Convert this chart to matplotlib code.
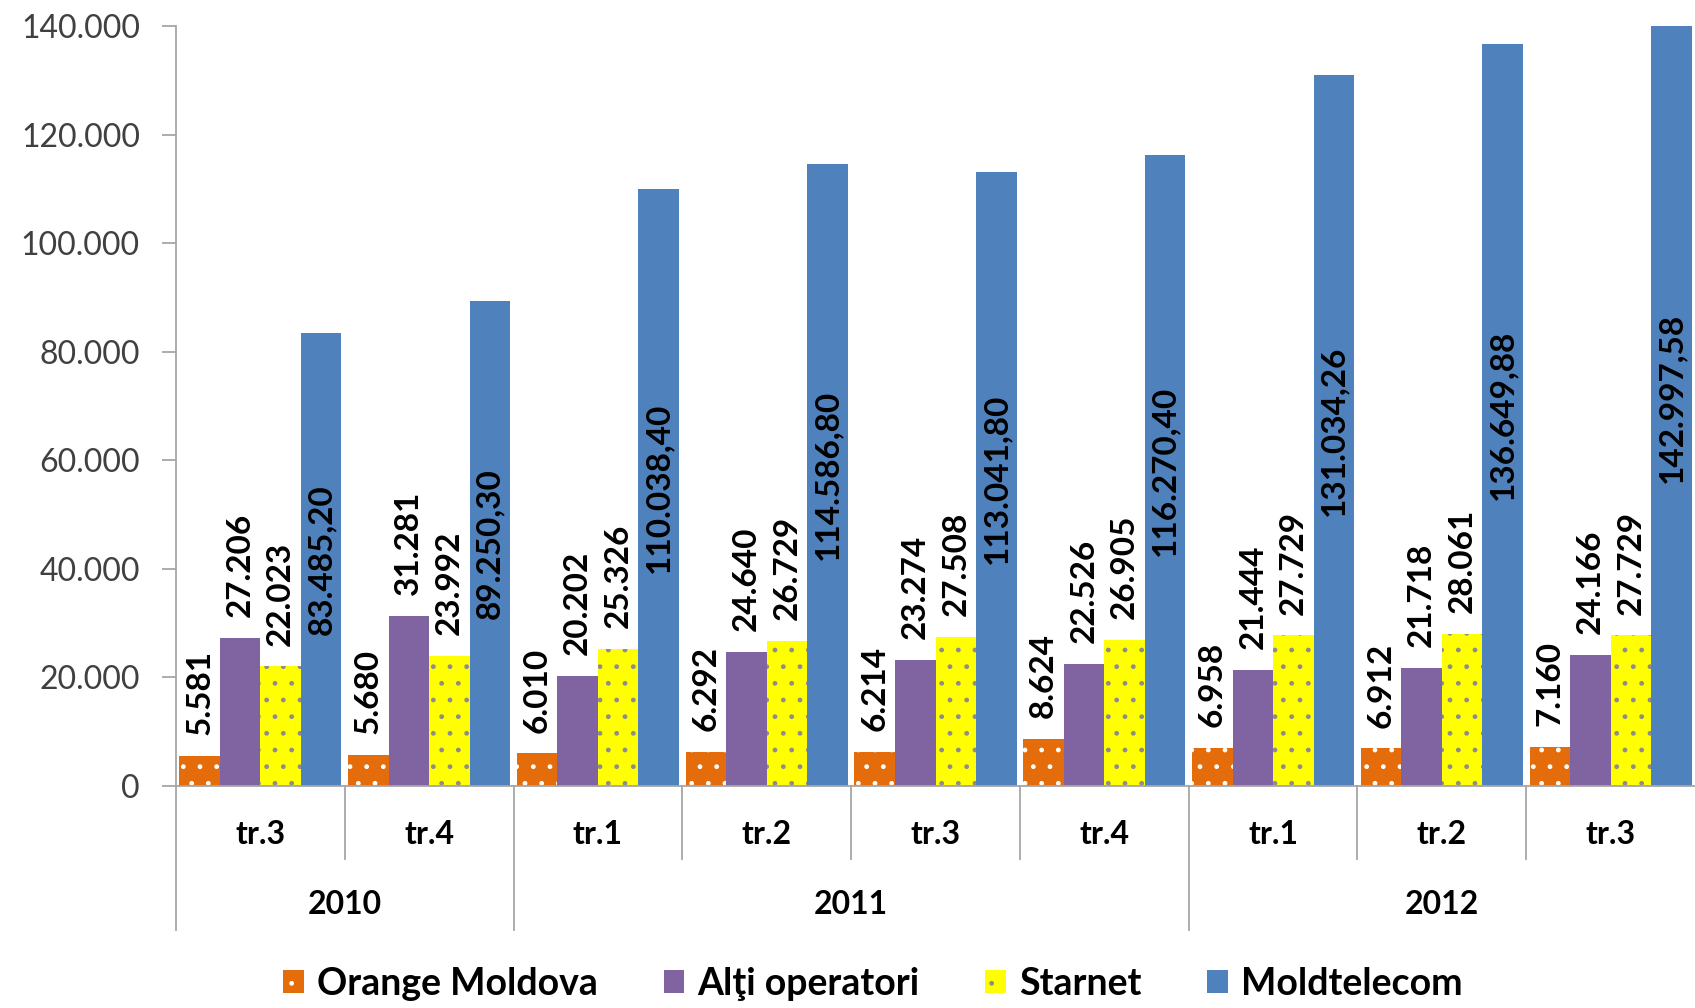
import matplotlib
matplotlib.use("Agg")
import matplotlib.pyplot as plt
import matplotlib.transforms as mtransforms
import numpy as np

plt.rcParams['font.family'] = ['Lato', 'DejaVu Sans']

quarters = ["tr.3", "tr.4", "tr.1", "tr.2", "tr.3", "tr.4", "tr.1", "tr.2", "tr.3"]
years = ["2010", "2011", "2012"]
year_spans = [(0, 1), (2, 5), (6, 8)]

series_names = ["Orange Moldova", "Alţi operatori", "Starnet", "Moldtelecom"]
orange = [5581, 5680, 6010, 6292, 6214, 8624, 6958, 6912, 7160]
alti = [27206, 31281, 20202, 24640, 23274, 22526, 21444, 21718, 24166]
starnet = [22023, 23992, 25326, 26729, 27508, 26905, 27729, 28061, 27729]
moldtelecom = [83485.20, 89250.30, 110038.40, 114586.80, 113041.80,
               116270.40, 131034.26, 136649.88, 142997.58]

colors = ["#E46C0A", "#8064A2", "#FFFF00", "#4F81BD"]
hatches = [".", None, ".", None]
hatch_colors = ["#FFFFFF", None, "#8C8C8C", None]


def fmt_int(v):
    return f"{int(round(v)):,}".replace(",", ".")


def fmt_dec(v):
    s = f"{v:,.2f}"
    return s.replace(",", "X").replace(".", ",").replace("X", ".")


fig = plt.figure(figsize=(16.95, 10.08), dpi=100)
ax = fig.add_axes([176 / 1695, 1 - 786 / 1008, 1 - 176 / 1695, 760 / 1008])

x = np.arange(len(quarters))
w = 0.24
data = [orange, alti, starnet, moldtelecom]
handles = []
for k, vals in enumerate(data):
    pos = x + (k - 1.5) * w
    if hatches[k]:
        bars = ax.bar(pos, vals, w, color=colors[k], hatch=hatches[k],
                      edgecolor=hatch_colors[k], linewidth=0,
                      label=series_names[k])
    else:
        bars = ax.bar(pos, vals, w, color=colors[k], linewidth=0,
                      label=series_names[k])
    handles.append(bars)
    for p, v in zip(pos, vals):
        if k == 3:
            ax.text(p, v / 2, fmt_dec(v), rotation=90, ha='center', va='center',
                    fontsize=24, fontweight='bold', color='black')
        else:
            ax.annotate(fmt_int(v), (p, v), xytext=(0, 15), textcoords='offset points',
                        rotation=90, ha='center', va='bottom',
                        fontsize=24, fontweight='bold', color='black')

ax.set_xlim(-0.5, len(quarters) - 0.5)
ax.set_ylim(0, 140000)
ax.set_yticks(np.arange(0, 140001, 20000))
ax.set_yticklabels([fmt_int(v) for v in np.arange(0, 140001, 20000)])
ax.tick_params(axis='y', length=10, width=1.3, color='#A6A6A6', pad=16,
               labelsize=23, labelcolor='#404040', direction='out')
ax.tick_params(axis='x', length=0, labelbottom=False)
for s in ['top', 'right']:
    ax.spines[s].set_visible(False)
for s in ['left', 'bottom']:
    ax.spines[s].set_color('#A6A6A6')
    ax.spines[s].set_linewidth(1.3)

trans = mtransforms.blended_transform_factory(ax.transData, ax.transAxes)
q_end = -(859 - 786) / 760
y_end = -(930 - 786) / 760
q_lab = -(835 - 786) / 760
y_lab = -(905 - 786) / 760

for i, q in enumerate(quarters):
    ax.text(i, q_lab, q, transform=trans, ha='center', va='center',
            fontsize=23, fontweight='bold', color='black')

year_bounds = [s[0] - 0.5 for s in year_spans]
for b in np.arange(-0.5, len(quarters) - 0.5, 1.0):
    end = y_end if b in year_bounds else q_end
    ax.plot([b, b], [0, end], transform=trans, color='#A6A6A6', lw=1.3,
            clip_on=False)

for name, (a, b) in zip(years, year_spans):
    ax.text((a + b) / 2, y_lab, name, transform=trans, ha='center', va='center',
            fontsize=23, fontweight='bold', color='black')

fig.legend(handles=handles, labels=series_names, loc='center',
           bbox_to_anchor=(0.515, 1 - 984 / 1008), ncol=4, frameon=False,
           prop={'size': 27, 'weight': 'bold'}, handlelength=0.55,
           handleheight=0.55, handletextpad=0.35, columnspacing=1.75)

fig.savefig("out.png", dpi=100)
